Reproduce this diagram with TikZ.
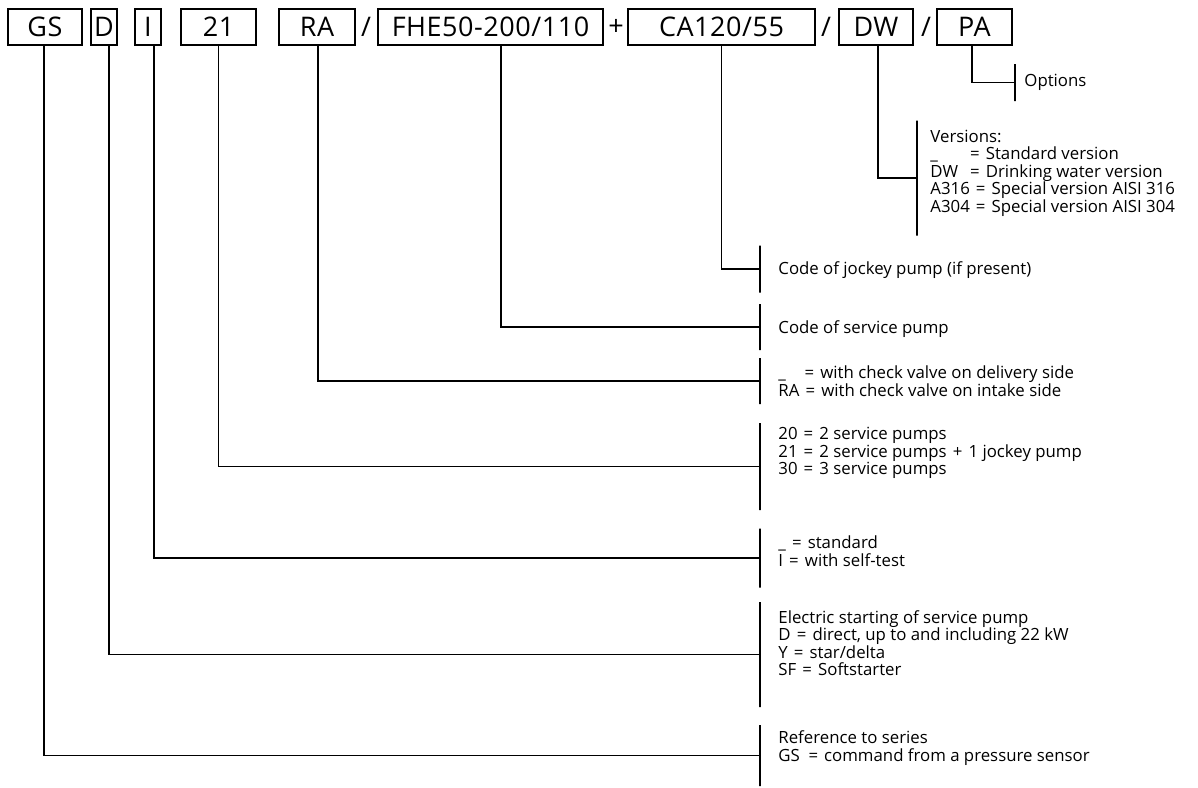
\documentclass[tikz,border=0pt]{standalone}
\usepackage{fontspec}
\setmainfont{Open Sans}
\newcommand{\eq}{\hspace{0.3em}\makebox[0.7em]{=}\hspace{0.3em}}
\newcommand{\plusop}{\hspace{0.3em}\makebox[0.7em]{+}\hspace{0.3em}}
\tikzset{
    codebox/.style={draw,line width=0.6pt,minimum height=18pt,inner sep=0pt,font=\fontsize{13.5}{16}\selectfont\addfontfeature{LetterSpace=2}},
    sep/.style={inner sep=0pt,font=\fontsize{13.5}{16}\selectfont},
    bar/.style={draw,line width=0.6pt,minimum width=0pt,inner sep=0pt},
    desc/.style={anchor=west,align=left,inner sep=0pt,font=\fontsize{8.4}{8.75}\selectfont},
    link/.style={line width=0.6pt}
}

\begin{document}
\begin{tikzpicture}[x=0.5pt,y=-0.5pt]
\useasboundingbox (0,0) rectangle (1198,787);
% type code
\node[codebox,minimum width=37pt] (series) at (45,27) {GS};
\node[codebox,minimum width=13pt] (start) at (104,27) {D};
\node[codebox,minimum width=13pt] (test) at (148,27) {I};
\node[codebox,minimum width=37.5pt] (pumps) at (218.5,27) {21};
\node[codebox,minimum width=38pt] (valve) at (317,27) {RA};
\node[sep] (s1) at (366,27) {/};
\node[codebox,minimum width=112.5pt] (service) at (490.5,27) {FHE50-200/110};
\node[sep] (s2) at (616,27) {+};
\node[codebox,minimum width=93.5pt] (jockey) at (721.5,27) {CA120/55};
\node[sep] (s3) at (826,27) {/};
\node[codebox,minimum width=37pt] (version) at (876,27) {DW};
\node[sep] (s4) at (926,27) {/};
\node[codebox,minimum width=37.5pt] (option) at (974.5,27) {PA};
% bars
\node[bar,minimum height=18.5pt] (optionbar) at (1015,82.5) {};
\node[bar,minimum height=57.5pt] (versionbar) at (917,178) {};
\node[bar,minimum height=23.5pt] (jockeybar) at (760,269) {};
\node[bar,minimum height=23pt] (servicebar) at (760,327) {};
\node[bar,minimum height=23pt] (valvebar) at (760,381) {};
\node[bar,minimum height=43.5pt] (pumpsbar) at (760,466.5) {};
\node[bar,minimum height=29.5pt] (testbar) at (760,558) {};
\node[bar,minimum height=52.5pt] (startbar) at (760,654.5) {};
\node[bar,minimum height=30.5pt] (seriesbar) at (760,755.5) {};
% texts
\node[desc] (optiontxt) at (1024,82) {Options};
\node[desc] (versiontxt) at (930,173) {Versions:\\
    \_\hspace{1.55em}\eq Standard version\\
    DW\hspace{0.35em}\eq Drinking water version\\
    A316\eq Special version AISI 316\\
    A304\eq Special version AISI 304};
\node[desc] (jockeytxt) at (778,270) {Code of jockey pump (if present)};
\node[desc] (servicetxt) at (778,329) {Code of service pump};
\node[desc] (valvetxt) at (778,381) {\_\hspace{0.75em}\eq with check valve on delivery side\\
    RA\eq with check valve on intake side};
\node[desc] (pumpstxt) at (778,453) {20\eq 2 service pumps\\
    21\eq 2 service pumps\plusop 1 jockey pump\\
    30\eq 3 service pumps};
\node[desc] (testtxt) at (778,551) {\_\eq standard\\
    I\eq with self-test};
\node[desc] (starttxt) at (778,643) {Electric starting of service pump\\
    D\eq direct, up to and including 22 kW\\
    Y\eq star/delta\\
    SF\eq Softstarter};
\node[desc] (seriestxt) at (778,748) {Reference to series\\
    GS\hspace{0.15em}\eq command from a pressure sensor};
% connectors
\draw[link] ([xshift=-1.25pt]option.south) |- (optionbar);
\draw[link] ([xshift=1pt]version.south) |- (versionbar);
\draw[link] (jockey.south) |- (jockeybar);
\draw[link] ([xshift=5.25pt]service.south) |- (servicebar);
\draw[link] ([xshift=0.5pt]valve.south) |- (valvebar);
\draw[link] (pumps.south) |- (pumpsbar);
\draw[link] ([xshift=3pt]test.south) |- (testbar);
\draw[link] ([xshift=2.5pt]start.south) |- (startbar);
\draw[link] ([xshift=-0.5pt]series.south) |- (seriesbar);
\end{tikzpicture}
\end{document}
